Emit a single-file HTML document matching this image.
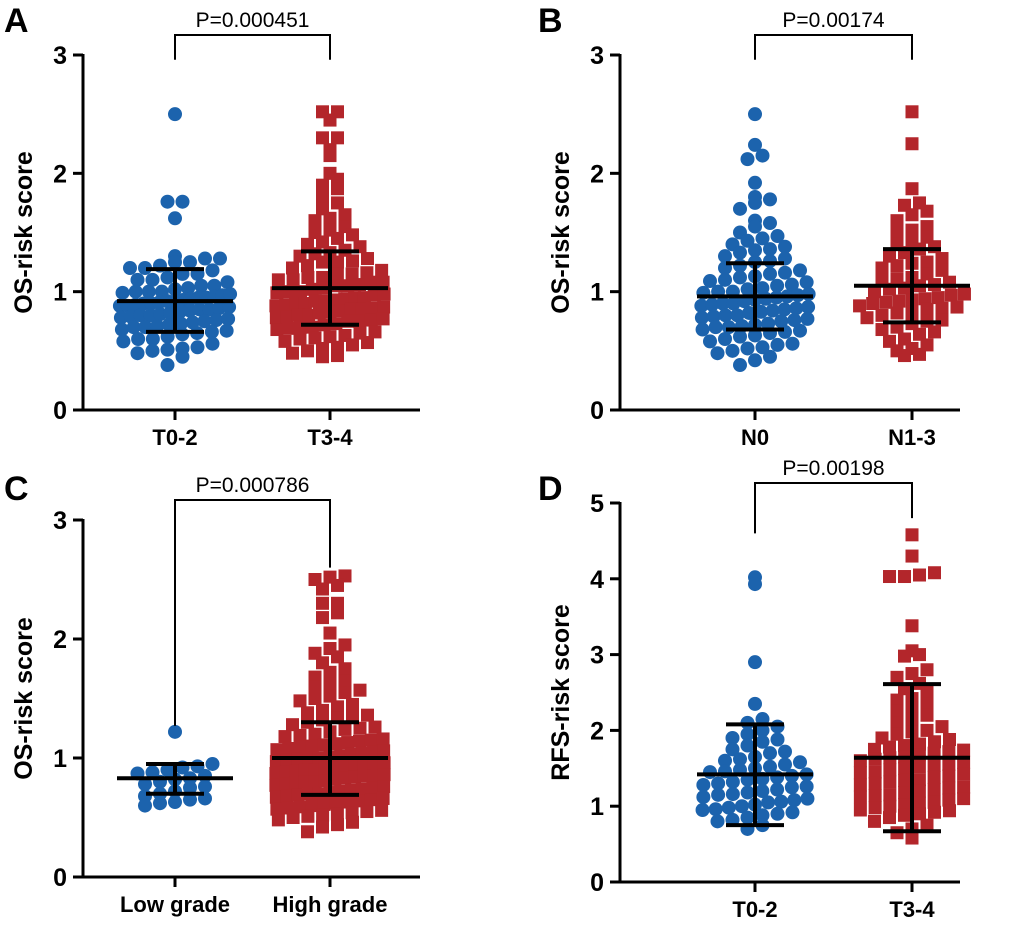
<!DOCTYPE html>
<html><head><meta charset="utf-8">
<style>
html,body{margin:0;padding:0;background:#fff;}
svg{display:block;font-family:"Liberation Sans",Arial,sans-serif;}
</style></head>
<body>
<svg id="fig" width="1020" height="925" viewBox="0 0 1020 925"></svg>
<script>
// ---------- DATA ----------
const panelLetters = ["A","B","C","D"];
const panelYTitles = ["OS-risk score","OS-risk score","OS-risk score","RFS-risk score"];
const panelCats = [["T0-2","T3-4"],["N0","N1-3"],["Low grade","High grade"],["T0-2","T3-4"]];
const panelPvals = ["P=0.000451","P=0.00174","P=0.000786","P=0.00198"];
const panelYMax = [3,3,3,5];
const panelMeans = [[0.92,1.03],[0.96,1.05],[0.83,1.00],[1.42,1.64]];
const panelLo = [[0.66,0.72],[0.68,0.74],[0.70,0.69],[0.75,0.67]];
const panelHi = [[1.19,1.34],[1.24,1.36],[0.95,1.30],[2.08,2.61]];
const bracketDrop = [[2.96,2.96],[2.96,2.96],[1.27,2.6],[4.6,4.8]];

const aLeft = [2.5,1.76,1.76,1.62,1.3,1.28,1.28,1.25,1.25,1.22,1.2,1.2,1.18,1.15,1.15,1.12,1.1,1.1,1.08,1.05,1.05,1.03,1.0,1.0,1.0,0.98,0.97,0.96,0.95,0.95,0.94,0.93,0.92,0.92,0.9,0.9,0.89,0.88,0.87,0.86,0.85,0.85,0.84,0.83,0.82,0.8,0.8,0.79,0.78,0.77,0.76,0.75,0.74,0.73,0.72,0.71,0.7,0.7,0.68,0.67,0.66,0.65,0.64,0.62,0.6,0.6,0.58,0.56,0.53,0.52,0.51,0.5,0.48,0.45,0.38,1.02,0.99,0.91,0.88,0.81];
const aRight = [2.52,2.52,2.45,2.3,2.3,2.2,2.15,2.0,1.95,1.9,1.87,1.8,1.75,1.7,1.65,1.62,1.6,1.55,1.52,1.5,1.48,1.45,1.42,1.4,1.38,1.35,1.33,1.3,1.28,1.26,1.25,1.22,1.2,1.18,1.16,1.15,1.12,1.1,1.1,1.08,1.06,1.05,1.03,1.02,1.0,1.0,0.98,0.97,0.95,0.94,0.93,0.92,0.9,0.9,0.88,0.87,0.86,0.85,0.84,0.82,0.8,0.8,0.78,0.77,0.76,0.75,0.73,0.72,0.7,0.7,0.68,0.66,0.65,0.63,0.62,0.6,0.58,0.57,0.55,0.53,0.52,0.5,0.48,0.46,0.45,1.15,1.05,0.95,0.85,0.75,1.25,1.12,0.99,0.89,0.79,0.69,0.61,1.32,1.08,0.92,0.83];
const bLeft = [2.5,2.24,2.15,2.12,1.92,1.8,1.78,1.75,1.7,1.6,1.58,1.55,1.5,1.47,1.45,1.43,1.4,1.38,1.35,1.33,1.3,1.28,1.25,1.22,1.2,1.18,1.15,1.12,1.1,1.08,1.06,1.05,1.03,1.0,1.0,0.98,0.97,0.95,0.94,0.92,0.9,0.9,0.88,0.87,0.85,0.84,0.82,0.8,0.8,0.78,0.76,0.75,0.73,0.72,0.7,0.7,0.68,0.66,0.65,0.63,0.62,0.6,0.58,0.56,0.55,0.53,0.52,0.5,0.48,0.45,0.42,0.38,1.16,1.02,0.93,0.86,0.77,1.26,1.09,0.96,0.83,0.71,1.36,1.13,0.99,0.89,0.79,0.67];
const bRight = [2.52,2.25,1.87,1.75,1.73,1.68,1.65,1.6,1.55,1.52,1.5,1.46,1.42,1.4,1.38,1.36,1.33,1.3,1.28,1.25,1.22,1.2,1.18,1.15,1.12,1.1,1.08,1.06,1.05,1.03,1.0,0.98,0.97,0.95,0.93,0.92,0.9,0.88,0.87,0.85,0.83,0.82,0.8,0.78,0.76,0.75,0.73,0.7,0.68,0.66,0.64,0.6,0.58,0.55,0.52,0.5,0.47,0.46,1.11,1.02,0.94,0.86,1.24,0.91];
const cLeft = [1.22,0.95,0.93,0.92,0.9,0.88,0.87,0.85,0.83,0.82,0.8,0.78,0.76,0.75,0.72,0.7,0.68,0.66,0.65,0.63,0.62,0.6];
const cRight = [2.53,2.52,2.5,2.45,2.42,2.3,2.3,2.22,2.18,2.05,1.95,1.92,1.88,1.85,1.8,1.75,1.72,1.68,1.65,1.62,1.6,1.57,1.55,1.52,1.5,1.48,1.45,1.43,1.4,1.38,1.36,1.34,1.32,1.3,1.28,1.26,1.24,1.22,1.2,1.18,1.16,1.15,1.13,1.12,1.1,1.09,1.08,1.06,1.05,1.04,1.02,1.0,1.0,0.99,0.98,0.96,0.95,0.94,0.93,0.92,0.9,0.9,0.89,0.88,0.86,0.85,0.84,0.83,0.82,0.8,0.8,0.79,0.78,0.76,0.75,0.74,0.73,0.72,0.7,0.7,0.69,0.68,0.66,0.65,0.64,0.63,0.62,0.6,0.59,0.58,0.56,0.55,0.54,0.52,0.51,0.5,0.48,0.46,0.44,0.42,0.38,1.14,1.07,1.01,0.97,0.91,0.87,0.81,0.77,1.25,1.11,1.03,0.95,0.85,0.71,0.61,0.53,1.35,1.19,0.67,0.57];
const dLeft = [4.02,3.93,2.9,2.35,2.15,2.1,2.05,2.0,1.95,1.9,1.88,1.85,1.8,1.75,1.72,1.7,1.65,1.62,1.6,1.58,1.55,1.52,1.5,1.48,1.45,1.42,1.4,1.38,1.35,1.32,1.3,1.28,1.25,1.22,1.2,1.18,1.15,1.12,1.1,1.08,1.05,1.02,1.0,0.98,0.95,0.92,0.9,0.88,0.85,0.82,0.8,0.75,0.7,1.46,1.36,1.26,1.16,1.06,0.96];
const dRight = [4.58,4.3,4.08,4.05,4.03,4.03,3.38,3.05,3.0,2.98,2.8,2.75,2.7,2.62,2.55,2.5,2.42,2.35,2.3,2.25,2.2,2.15,2.1,2.05,2.0,1.98,1.95,1.9,1.88,1.85,1.82,1.8,1.78,1.75,1.72,1.7,1.68,1.65,1.62,1.6,1.58,1.55,1.52,1.5,1.48,1.45,1.42,1.4,1.38,1.35,1.32,1.3,1.28,1.25,1.22,1.2,1.18,1.15,1.12,1.1,1.08,1.05,1.02,1.0,0.98,0.95,0.92,0.9,0.88,0.85,0.8,0.75,0.7,0.65,0.58,1.44,1.34,1.24,1.14,1.04,1.54,1.64,1.74,0.94,2.4];
const panelData = [[aLeft,aRight],[bLeft,bRight],[cLeft,cRight],[dLeft,dRight]];

// ---------- LAYOUT ----------
const layouts = [
  {ax:83, y0:410, yTop:55, x1:175, x2:330, xEnd:420, lx:4, ly:32, titleX:32},
  {ax:620, y0:410, yTop:55, x1:755, x2:912, xEnd:960, lx:538, ly:32, titleX:569},
  {ax:83, y0:877, yTop:520, x1:175, x2:330, xEnd:420, lx:4, ly:500, titleX:32},
  {ax:620, y0:882, yTop:503, x1:755, x2:912, xEnd:960, lx:538, ly:500, titleX:569}
];
const BLUE="#1c63ad", RED="#b3262b";
const svg=document.getElementById('fig');
const NS="http://www.w3.org/2000/svg";
function mk(tag,attrs,parent){const e=document.createElementNS(NS,tag);for(const k in attrs)e.setAttribute(k,attrs[k]);(parent||svg).appendChild(e);return e;}

panelData.forEach((groups,p)=>{
  const L=layouts[p];
  const g=mk('g',{});
  
  
  const ymax=panelYMax[p];
  const ys=v=>L.y0-(v/ymax)*(L.y0-L.yTop);
  const lt=mk('text',{x:L.lx,y:L.ly,'font-size':34,'font-weight':'bold',fill:'#000'},g);
  lt.textContent=panelLetters[p];
  
  
  const ya=mk('line',{x1:L.ax,y1:L.yTop-1,x2:L.ax,y2:L.y0+1.5,stroke:'#000','stroke-width':3},g);
  
  
  const xa=mk('line',{x1:L.ax-1.5,y1:L.y0,x2:L.xEnd,y2:L.y0,stroke:'#000','stroke-width':3},g);
  
  
  for(let t=0;t<=ymax;t++){
    const y=ys(t);
    mk('line',{x1:L.ax-10,y1:y,x2:L.ax,y2:y,stroke:'#000','stroke-width':3},g);
    const tl=mk('text',{x:L.ax-16,y:y+9,'font-size':25,'font-weight':'bold','text-anchor':'end'},g);
    tl.textContent=t;
    
    
  }
  const cy=(L.y0+L.yTop)/2;
  const yt=mk('text',{x:L.titleX,y:cy,'font-size':25,'font-weight':'bold','text-anchor':'middle',transform:`rotate(-90 ${L.titleX} ${cy})`},g);
  yt.textContent=panelYTitles[p];
  
  
  const xs=[L.x1,L.x2];
  xs.forEach((x,i)=>{
    mk('line',{x1:x,y1:L.y0,x2:x,y2:L.y0+10,stroke:'#000','stroke-width':3},g);
    const cl=mk('text',{x:x,y:L.y0+35,'font-size':22,'font-weight':'bold','text-anchor':'middle'},g);
    cl.textContent=panelCats[p][i];
    
    
  });
  groups.forEach((vals,gi)=>{
    const sorted=vals.slice().sort((a,b)=>a-b);
    const rows={};
    sorted.forEach(v=>{const r=Math.round(ys(v)/12);(rows[r]=rows[r]||[]).push(v);});
    Object.values(rows).forEach(rv=>{
      const n=rv.length;
      const step=Math.min(15,118/Math.max(n,1));
      rv.forEach((v,i)=>{
        const x=xs[gi]+(i-(n-1)/2)*step;
        const y=ys(v);
        let el;
        if(gi===0){el=mk('circle',{cx:x,cy:y,r:7,fill:BLUE},g);}
        else{el=mk('rect',{x:x-6.5,y:y-6.5,width:13,height:13,fill:RED},g);}
        
        
      });
    });
    const m=ys(panelMeans[p][gi]),lo=ys(panelLo[p][gi]),hi=ys(panelHi[p][gi]);
    const x=xs[gi];
    const eg=mk('g',{stroke:'#000','stroke-width':4},g);
    
    
    mk('line',{x1:x-58,y1:m,x2:x+58,y2:m},eg);
    mk('line',{x1:x,y1:lo,x2:x,y2:hi},eg);
    mk('line',{x1:x-29,y1:lo,x2:x+29,y2:lo},eg);
    mk('line',{x1:x-29,y1:hi,x2:x+29,y2:hi},eg);
  });
  const by=L.yTop-20;
  const br=mk('path',{d:`M${L.x1},${ys(bracketDrop[p][0])} L${L.x1},${by} L${L.x2},${by} L${L.x2},${ys(bracketDrop[p][1])}`,fill:'none',stroke:'#000','stroke-width':2},g);
  
  
  const pt=mk('text',{x:(L.x1+L.x2)/2,y:by-8,'font-size':21,'text-anchor':'middle'},g);
  pt.textContent=panelPvals[p];
  
  
});
</script>
</body></html>
